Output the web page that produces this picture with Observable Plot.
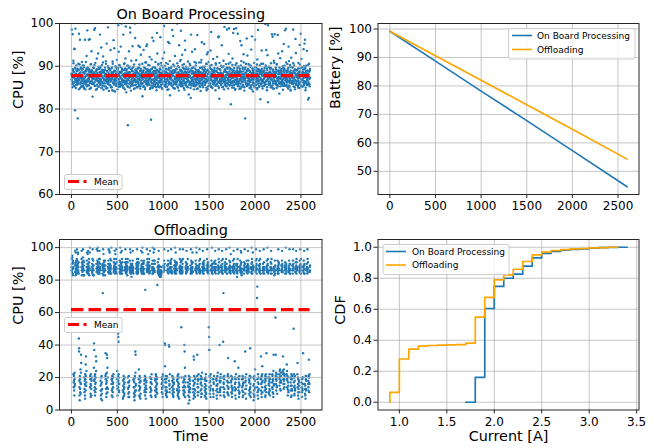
<!DOCTYPE html>
<html><head><meta charset="utf-8">
<script src="https://cdn.jsdelivr.net/npm/d3@7"></script>
<script src="https://cdn.jsdelivr.net/npm/@observablehq/plot@0.6"></script>
<style>
html,body{margin:0;padding:0;background:#fff;}
#fig{position:relative;width:664px;height:448px;overflow:hidden;font-family:"DejaVu Sans",sans-serif;}
#fig svg{position:absolute;left:0;top:0;}
</style></head><body><div id="fig"></div>
<script>
// ---------------- data ----------------
// CPU samples: series A at t = i*3 s, series B at t = i*3 + 1.5 s
const timeStep = 3;
const cpuOnBoardA = [
88.2,98.6,86.5,85.1,97.5,89.0,87.4,91.3,86.0,88.7,85.4,94.0,87.9,79.7,86.8,89.5,84.9,88.1,90.2,86.3,
87.1,85.7,88.9,77.8,86.4,90.6,87.6,84.6,89.2,86.9,88.4,96.2,85.9,87.3,89.8,86.1,88.0,85.2,91.0,87.7,
86.6,89.4,85.5,88.6,87.0,90.1,84.8,86.2,88.3,96.2,87.5,85.8,89.1,86.7,88.8,92.4,85.3,87.8,86.4,89.7,
88.1,85.6,87.2,96.2,86.9,89.3,84.7,88.5,86.3,87.9,90.4,85.0,88.7,93.5,86.6,89.0,87.4,82.9,85.9,88.2,
87.0,89.6,86.1,98.5,88.4,85.4,87.7,90.8,86.8,84.5,88.9,87.3,91.8,85.7,89.2,86.5,88.0,93.0,87.5,85.2,
89.4,86.2,88.6,87.1,97.4,85.8,89.9,86.9,88.3,84.9,87.6,90.3,86.4,88.7,85.5,92.3,87.2,89.1,86.0,88.5,
85.3,87.9,89.7,86.6,88.1,91.2,84.8,87.4,95.3,86.3,88.9,85.9,87.0,90.0,86.8,88.4,84.2,89.3,87.6,85.6,
88.0,86.4,93.8,87.8,85.1,89.5,86.9,88.6,84.4,87.3,90.6,86.1,88.2,96.1,85.7,87.7,89.0,86.5,84.1,88.8,
87.1,89.8,85.4,88.3,86.7,91.5,87.5,84.6,89.2,86.2,99.6,88.1,85.8,87.9,90.2,86.4,88.7,85.2,87.4,94.6,
86.0,88.5,100.0,87.0,89.4,85.5,86.8,88.0,97.4,84.9,87.6,90.5,86.3,89.1,85.9,88.4,91.8,87.2,86.5,83.9,
88.9,86.1,87.8,90.1,85.3,76.2,88.2,86.7,89.6,93.5,87.3,85.0,88.6,99.0,86.4,87.9,84.3,89.3,86.9,88.0,
85.7,87.5,94.7,86.2,88.8,89.9,86.6,84.7,88.1,87.0,100.0,85.6,89.2,86.8,88.3,91.4,87.4,85.1,88.7,86.3,
89.5,87.6,86.0,94.8,88.4,85.4,87.1,90.4,86.7,88.9,84.8,87.8,92.7,86.1,89.0,85.8,88.2,87.3,83.0,86.9,
88.6,85.2,93.8,87.4,89.7,86.4,88.0,84.6,90.9,87.1,85.9,88.5,94.7,86.6,89.3,87.7,85.5,88.2,86.2,90.3,
87.0,88.8,85.7,86.9,92.2,89.1,87.5,85.0,86.3,77.5,88.3,91.6,86.8,89.4,84.9,87.9,86.0,88.7,95.9,85.6,
88.1,86.5,89.8,87.2,85.3,91.0,88.6,86.1,87.6,84.4,89.2,86.7,93.0,88.0,85.8,87.4,90.6,86.3,88.9,85.1,
87.7,89.5,86.2,96.8,88.2,85.6,87.1,90.2,86.8,88.5,84.7,91.8,87.3,85.9,89.0,86.4,88.1,93.2,87.5,85.4,
86.9,88.7,85.2,87.9,90.8,86.0,89.3,87.0,84.5,88.4,86.6,95.7,87.6,85.7,89.6,86.3,88.0,91.2,83.2,87.2,
88.8,86.1,87.4,89.9,85.5,88.2,98.5,86.7,87.8,85.0,90.4,88.5,86.4,89.1,84.8,87.1,92.4,86.0,88.6,85.8,
87.5,89.4,86.2,88.0,100.0,85.3,87.9,90.0,86.8,88.3,84.3,94.9,87.0,85.9,89.2,86.5,88.9,91.5,87.3,85.6,
88.4,86.0,92.7,87.6,85.4,89.7,86.6,88.1,84.9,90.5,87.2,86.3,88.8,93.8,85.7,87.8,89.3,86.1,88.5,87.0,
85.2,88.0,86.9,91.1,87.4,89.5,83.4,86.4,88.6,85.8,87.7,90.2,86.2,82.6,89.0,87.1,85.5,88.3,93.4,86.7,
88.9,85.9,87.5,89.8,86.3,84.6,88.2,91.0,87.0,85.3,89.4,86.8,88.5,90.8,85.6,87.9,86.1,97.3,88.7,84.8,
87.3,89.1,86.6,88.0,90.9,85.4,87.8,86.0,88.6,84.2,89.7,87.1,91.5,85.8,88.3,86.9,87.6,89.9,85.1,88.1,
86.4,88.8,95.2,87.2,85.7,89.3,86.2,88.4,87.0,90.6,85.0,87.7,92.8,86.5,89.0,84.7,88.2,86.8,91.0,87.4,
85.5,88.6,87.1,89.6,86.0,93.7,88.0,85.2,87.5,90.3,86.7,89.2,84.9,88.3,87.8,91.7,86.1,88.9,85.8,87.3,
89.0,86.4,88.1,84.4,90.7,87.6,85.6,88.7,86.9,92.2,87.2,89.5,86.3,88.4,85.3,97.0,87.9,82.4,86.6,89.3,
87.0,88.5,85.9,90.1,86.5,88.2,94.9,87.4,85.1,89.8,86.8,88.0,91.3,87.7,84.6,86.2,89.1,87.3,85.7,88.9,
86.1,90.5,87.8,85.4,88.6,98.6,86.7,89.4,87.1,84.8,88.3,92.9,86.4,87.5,89.7,85.6,88.1,90.9,86.9,81.1,
88.4,86.0,89.2,87.3,85.5,91.8,88.8,86.6,87.9,85.0,98.7,89.6,86.3,88.1,84.5,87.6,90.3,86.8,98.9,85.8,
87.2,89.0,86.1,88.6,97.6,85.3,87.7,90.0,86.5,88.3,84.7,89.5,87.0,95.9,85.9,88.8,86.7,91.2,87.4,85.2,
88.2,86.4,89.8,87.5,85.6,92.8,88.0,86.9,84.3,89.3,87.1,77.8,88.5,86.2,90.6,87.8,85.4,88.9,86.0,92.5,
87.3,89.4,85.8,88.1,86.6,90.4,87.0,84.9,88.7,86.3,89.9,87.6,85.1,93.9,86.8,88.4,87.2,85.7,89.1,84.1,
86.2,88.6,87.9,90.8,85.5,89.2,86.9,96.2,88.0,85.0,87.4,89.7,86.4,88.3,84.6,91.6,87.1,85.9,88.8,86.7,
89.3,87.5,85.2,88.2,90.2,86.0,82.3,88.7,87.0,85.7,89.0,93.7,86.5,88.4,84.8,87.8,90.6,86.3,88.9,85.4,
87.2,89.6,86.1,88.0,99.9,85.8,87.6,90.0,86.7,88.5,84.4,89.1,92.6,87.3,81.6,88.1,86.4,89.8,85.6,87.9,
88.6,86.2,89.4,87.0,85.1,90.7,88.3,86.8,97.5,87.7,85.5,89.2,86.0,88.8,84.7,91.3,87.4,86.5,97.5,88.1,
85.9,87.8,89.7,86.4,88.4,84.9,90.4,87.1,85.7,88.9,86.6,93.0,87.5,89.0,86.1,83.6,88.2,87.3,91.9,85.3,
88.7,86.3,89.3,87.9,85.8,93.5,88.1,86.9,84.5,89.6,87.2,95.2,86.0,88.5,90.1,85.4,87.7,86.7,89.0,98.8,
87.0,85.6,88.8,86.2,90.5,87.6,89.4,84.8,88.0,86.5,91.2,87.3,85.2,88.6,86.8,89.9,84.3,87.9,92.0,86.1,
88.3,85.9,87.4,89.7,86.6,98.6,88.9,85.3,87.1,90.2,86.4,88.5,84.6,89.1,87.8,93.1,86.0,88.1,85.7,87.5,
89.2,86.7,88.4,85.0,90.8,87.2,86.1,88.7,84.9,95.0,87.6,89.5,86.3,88.0,85.5,91.7,87.0,86.8,89.8,85.2,
87.9,88.6,86.2,94.0,87.3,85.8,89.3,86.5,96.2,88.2,84.4,87.7,90.1,86.0,88.8,93.6,85.6,87.4,89.0,82.2,
86.4,88.1,82.6,90.6,87.0,85.3,89.4];
const cpuOnBoardB = [
86.9,88.4,85.8,87.4,87.6,89.3,86.2,90.7,88.0,85.3,94.1,87.2,89.6,86.4,98.8,88.3,85.6,87.8,89.0,86.7,
88.9,86.1,89.4,87.3,86.9,85.9,88.2,97.6,86.8,90.4,87.5,84.9,88.6,86.3,89.5,87.9,85.4,89.1,87.1,86.6,
87.4,90.2,86.0,88.5,85.1,89.8,87.1,86.3,86.5,88.8,84.6,87.7,91.0,86.2,89.4,85.7,88.1,98.4,87.0,86.4,
89.2,86.8,88.0,85.5,88.7,87.4,96.3,86.1,88.9,84.8,87.6,90.5,86.5,89.0,85.9,88.3,87.2,87.1,86.0,89.7,
85.8,88.6,87.2,90.3,86.3,98.9,88.1,85.4,87.8,88.9,86.9,89.3,84.7,88.4,86.6,87.2,87.5,85.2,89.9,86.1,
88.0,86.6,86.7,89.5,87.0,85.6,88.7,86.4,94.4,87.9,85.0,89.2,86.1,88.5,90.9,87.3,84.5,88.9,86.8,86.8,
87.7,86.0,89.1,88.2,85.3,90.6,87.0,88.0,86.5,88.8,84.9,87.4,99.1,86.3,89.6,85.8,88.1,89.4,87.2,86.9,
89.0,85.5,87.9,86.6,86.9,88.3,85.1,89.7,87.5,91.1,86.2,88.6,84.3,87.8,86.8,94.2,88.9,85.9,87.1,90.0,
86.4,88.1,87.7,87.3,85.6,89.4,86.0,88.7,89.6,87.0,85.2,93.4,86.9,88.3,90.3,86.1,87.6,85.4,89.8,88.5,
87.2,85.8,88.8,86.5,89.2,87.9,85.5,86.3,89.1,85.0,88.2,86.7,90.7,87.4,84.6,89.5,86.2,99.3,88.0,85.7,
89.3,86.6,88.4,87.1,85.2,90.1,86.8,88.3,88.6,85.9,87.5,89.9,86.0,97.9,88.1,85.4,87.7,91.3,86.4,88.9,
86.1,89.6,87.3,85.5,87.6,88.2,86.7,90.4,87.0,84.8,88.5,96.6,86.3,89.2,85.7,87.8,88.8,88.7,86.5,85.1,
88.3,87.0,89.5,86.2,89.7,85.6,88.0,86.9,94.5,87.5,85.3,89.4,86.6,88.2,88.4,85.9,87.2,90.6,86.0,88.8,
87.6,89.0,85.4,88.1,86.4,88.1,87.9,85.0,89.5,86.7,88.6,90.9,86.1,87.3,95.1,85.8,88.9,86.5,89.2,87.1,
85.9,88.4,86.8,90.2,87.4,84.7,88.7,87.1,86.3,89.3,85.5,87.8,86.1,96.7,88.2,85.2,89.8,87.0,88.4,86.6,
88.9,86.4,87.7,85.7,89.6,88.9,86.9,88.3,85.1,87.2,97.8,86.0,89.0,87.5,85.4,90.4,88.6,86.2,87.3,87.9,
86.7,88.5,85.3,89.2,87.1,90.8,86.4,88.0,84.9,88.5,87.6,86.1,89.7,85.8,88.8,87.3,99.4,86.5,88.2,90.1,
87.8,85.6,89.4,86.3,88.6,87.0,87.7,85.2,88.1,86.8,90.5,87.4,84.6,89.1,86.0,95.4,88.3,85.9,87.5,86.9,
89.5,87.2,86.0,88.7,85.4,88.4,87.9,86.6,89.0,97.1,85.7,88.4,86.2,90.0,87.6,84.8,88.9,86.9,86.4,87.1,
85.8,89.3,88.0,86.5,90.7,87.3,85.0,88.6,87.8,86.9,89.8,87.5,85.6,88.2,91.2,86.1,87.7,98.3,85.3,89.1,
87.0,86.3,88.8,90.3,85.9,87.6,88.4,86.7,89.4,88.1,84.5,87.2,96.0,86.0,88.5,85.5,89.9,87.8,88.1,86.4,
88.6,87.4,85.1,89.2,86.6,87.5,88.0,85.7,87.9,90.6,86.2,88.9,84.9,87.3,97.4,86.5,89.5,85.8,88.3,87.0,
86.8,89.7,87.5,85.4,88.6,88.2,86.1,87.7,94.0,85.6,88.6,90.2,86.4,89.1,87.2,84.7,88.0,86.9,88.0,87.6,
89.0,85.9,88.4,86.3,88.8,87.1,89.6,85.2,87.8,86.6,90.9,88.5,86.0,95.6,87.4,85.5,89.3,87.9,86.2,88.3,
87.3,88.9,86.5,89.9,85.7,88.1,86.4,87.0,86.2,88.7,84.4,90.5,87.6,86.8,89.2,93.3,85.3,88.3,87.1,86.0,
88.8,86.6,90.1,87.7,85.5,89.4,86.9,98.0,88.2,85.1,87.4,88.7,86.3,89.0,87.9,85.8,87.7,88.6,86.7,89.6,
86.2,88.0,87.1,85.4,90.4,86.8,88.9,87.6,87.3,85.9,89.5,86.4,88.4,96.8,87.6,84.9,88.1,90.8,86.1,87.7,
89.1,86.9,88.5,85.6,88.0,87.2,86.0,89.8,87.3,88.3,85.2,87.5,90.0,86.5,88.7,99.2,87.0,85.7,89.3,86.6,
87.9,85.3,88.6,87.4,89.7,86.1,88.1,88.0,85.8,87.1,90.6,86.7,98.9,88.8,85.5,87.6,89.4,86.3,87.6,88.2,
86.4,89.2,87.7,85.0,90.3,88.5,86.2,97.8,87.3,89.0,85.6,88.1,88.5,86.8,87.9,84.7,88.2,86.0,88.7,90.7,
88.3,86.5,89.6,87.0,85.7,86.0,88.4,86.1,87.8,88.8,85.3,89.1,86.9,88.6,84.8,90.2,87.4,94.9,86.3,88.0,
87.1,89.4,85.6,88.8,86.4,90.9,87.5,85.1,88.2,87.2,86.7,89.7,87.3,85.9,88.5,86.0,96.5,87.9,85.4,89.2,
86.6,88.1,90.5,87.2,85.8,89.0,86.3,87.9,88.7,85.5,87.6,90.1,86.8,88.4,84.6,97.0,87.0,89.5,86.2,88.9,
88.5,86.9,87.4,88.3,85.2,89.8,86.1,88.3,87.1,87.7,85.6,88.9,86.5,90.4,87.1,84.9,89.3,98.5,86.4,88.0,
87.6,85.4,89.1,86.7,88.6,89.0,87.3,85.9,88.1,90.6,86.0,89.4,87.8,85.3,86.7,86.8,88.7,87.0,88.1,86.2,
89.0,87.5,85.7,88.4,86.3,90.2,88.0,93.8,86.6,89.5,85.1,87.9,86.9,99.6,88.3,85.8,87.2,89.9,86.4,88.6,
86.1,88.8,87.4,85.5,89.6,86.9,87.7,88.2,85.0,87.7,96.9,86.4,89.2,87.1,84.8,88.5,90.8,86.7,88.0,87.5,
88.7,86.0,89.3,87.6,85.6,90.5,86.5,88.9,87.2,97.3,85.3,88.1,86.8,88.4,87.4,89.7,85.9,88.6,86.3,87.4,
87.0,89.1,85.8,88.3,86.3,86.6,87.9,90.0,85.4,88.8,86.2,89.2,87.5,89.4,85.7,98.4,88.0,86.9,87.3,90.9,
86.4,88.5,87.1,85.2,88.8,88.9,86.7,89.6,94.6,87.8,85.5,88.2,86.1,90.3,87.0,84.5,89.0,87.7,86.5,88.4,
87.7,86.3,89.8,87.2,85.9,90.7,88.6,86.0,88.5,87.4,85.1,89.3,86.8,96.4,88.1,85.6,87.9,89.0,86.4,89.1,
88.0,87.3,85.4,89.5,86.6,87.9,88.3,85.8,87.6,90.4,86.2,88.8,97.6,87.0,85.3,89.7,86.9,88.5,88.3,87.1,
86.7,89.2,87.8,85.5,90.0,88.4,95.3,86.1,87.5,89.6,85.0,88.9,86.4,88.5,87.2,87.1,86.8,88.2,85.7,90.3,
87.4,86.0,87.4,88.7,85.8,89.0,87.3];
const cpuOffloadingA = [
88,93,85,95,90,84,91,87,17,21,12,19,15,89,98,83,91,86,92,88,
99,87,84,90,97,85,91,44,38,14,6,19,11,25,16,34,88,98,83,90,
85,89,99,87,92,86,83,13,18,9,22,15,28,33,17,88,85,97,90,87,
85,98,89,86,91,83,87,100,21,16,8,19,13,18,86,90,84,99,87,92,
86,83,41,37,19,14,22,11,17,33,30,87,99,85,90,86,100,91,84,88,
88,85,98,86,90,87,15,9,20,12,17,6,89,84,72,99,87,86,92,91,
87,86,83,89,35,22,16,10,18,34,32,26,13,90,87,99,85,88,86,97,
90,85,88,87,84,100,19,12,21,8,16,14,20,87,91,86,89,98,84,88,
86,90,88,99,87,84,24,13,17,47,45,42,20,11,89,85,87,100,91,85,
87,86,89,98,84,91,86,7,15,11,19,9,14,17,88,87,99,85,90,86,
87,89,86,83,91,20,13,8,17,11,15,88,85,99,87,90,84,88,82,86,
87,90,86,98,88,84,18,10,14,6,21,12,36,34,16,87,85,89,99,91,
86,89,84,87,91,25,12,17,8,20,14,10,87,98,85,88,90,84,100,88,
88,85,90,87,84,16,11,19,74,13,7,15,18,89,99,86,87,91,85,88,
86,91,87,84,89,98,14,20,9,17,12,22,86,88,87,100,84,90,86,92,
87,99,85,90,12,18,8,21,15,11,19,16,77,85,88,86,87,98,83,89,
86,83,82,84,83,86,85,88,20,13,17,10,22,18,85,88,87,99,86,41,
40,17,12,19,9,14,21,11,86,89,87,98,84,90,40,39,16,13,88,85,
87,90,99,86,88,84,18,10,15,20,8,13,17,87,85,89,100,91,85,87,
86,89,87,90,12,19,9,15,22,11,16,7,88,85,99,87,84,91,88,51,
86,87,84,88,90,99,14,10,18,12,40,36,26,8,17,87,85,89,98,85,
90,86,87,88,15,4,12,19,8,14,11,18,87,84,99,86,88,91,87,85,
88,85,13,7,33,31,16,10,20,12,87,90,86,100,88,84,87,34,14,9,
18,11,86,89,87,99,90,85,86,16,21,8,13,19,10,88,85,98,87,91,
84,88,86,87,14,9,18,11,22,15,7,86,89,99,87,90,86,85,88,51,
45,37,17,12,20,8,15,86,89,87,100,90,84,86,13,19,10,16,88,87,
86,90,98,87,84,88,12,18,7,15,21,11,86,88,87,99,91,85,40,13,
17,9,14,20,88,85,87,98,90,84,86,42,72,16,11,19,8,88,87,86,
90,88,99,86,87,84,15,21,10,32,13,17,88,85,100,87,91,85,86,88,
18,11,14,8,20,12,87,85,88,98,90,84,87,30,16,9,19,13,86,89,
87,82,90,99,86,88,26,12,17,10,21,15,86,87,89,98,84,91,87,85,
14,19,8,16,11,20,86,89,87,99,90,36,13,18,7,15,85,88,86,87,
90,98,86,88,87,17,10,21,13,38,16,8,88,85,100,87,91,84,86,88,
87,15,6,12,19,9,14,25,86,88,99,87,90,84,69,76,11,17,7,20,
13,86,89,87,98,90,86,84,33,16,10,21,14,27,18,87,88,85,99,91,
84,87,12,19,8,15,22,11,35,86,89,87,100,90,86,85,16,10,20,13,
17,9,88,86,87,98,90,84,86,14,21,11,18,8,34,16,87,83,88,86,
89,57,34,19,12,22,15,10,87,88,85,99,84,90,87,20,24,17,13,21,
18,23,86,89,87,98,90,85,33,22,16,25,19,14,21,86,88,87,100,84,
89,85,28,24,18,13,20,15,11,86,87,89,99,84,90,86,17,12,19,9,
15,21,86,89,87,99,90,50,22,14,10,18,12,87,85,88,98,84,91,86,
87,29,16,9,19,13,11,17,86,89,87,99,90,84,86,88,14,8,20,12,
16,35,86,89,87,98,90,84,10,15,7,19,13,21,87,86,88,99,85,91,
18,12,31,20,16,88,86];
const cpuOffloadingB = [
86,90,94,87,83,92,88,22,14,18,9,23,16,85,90,97,87,84,89,93,
92,85,89,96,86,88,84,36,18,9,21,13,17,10,23,29,93,86,91,87,
88,94,86,83,89,91,20,11,16,7,19,12,21,15,24,86,92,88,84,96,
90,87,84,93,88,86,97,14,19,10,22,15,9,20,88,85,93,87,89,83,
89,26,18,12,21,9,16,20,13,24,90,85,88,92,87,98,84,89,86,93,
91,87,84,93,88,18,12,7,16,21,10,13,86,90,88,83,96,89,85,87,
89,92,86,21,19,13,8,17,23,14,11,20,88,85,92,87,84,98,89,90,
86,93,89,84,92,16,9,18,13,20,11,17,22,85,88,93,86,90,87,96,
88,85,93,87,91,19,15,9,21,14,18,22,12,16,87,92,84,88,86,97,
90,84,87,93,88,86,12,18,8,21,13,16,10,20,86,91,88,93,84,89,
85,91,88,87,93,17,10,14,21,8,18,87,92,86,97,84,89,86,85,90,
89,86,92,85,87,19,14,8,17,11,20,9,23,15,12,90,88,84,93,86,
88,85,93,90,19,15,9,21,13,17,7,18,86,89,92,87,84,97,86,90,
86,91,84,92,18,12,21,9,14,20,11,17,13,87,85,93,90,86,96,88,
89,86,93,88,85,20,11,17,13,19,8,16,90,84,92,87,88,85,97,87,
90,86,92,19,9,14,22,12,17,13,20,10,88,91,84,89,93,86,88,85,
84,82,83,86,82,88,84,16,11,19,14,8,21,15,89,86,92,88,90,27,
19,14,21,10,17,12,8,20,89,85,92,86,90,87,18,15,11,22,85,91,
92,86,88,93,85,14,21,12,17,9,19,11,16,89,92,86,84,88,97,90,
84,91,86,18,13,21,10,17,8,20,14,12,87,93,86,89,88,85,92,20,
88,92,86,85,93,17,12,20,9,15,19,11,14,21,88,91,84,87,90,86,
86,88,93,17,9,14,21,11,6,16,20,13,89,85,92,87,84,90,86,97,
91,18,11,15,9,21,13,17,8,19,86,92,88,85,97,89,21,16,11,19,
14,22,88,85,92,87,84,93,19,12,17,10,20,15,23,86,90,88,84,89,
90,86,92,19,12,16,8,20,13,10,18,87,93,85,88,91,84,89,86,37,
14,21,10,18,13,22,86,89,92,85,88,84,90,19,12,8,17,21,91,86,
88,85,92,86,90,19,15,9,20,13,16,23,89,84,93,87,88,18,11,20,
12,18,22,89,86,92,85,88,84,93,20,14,17,9,21,13,89,91,85,88,
86,93,87,90,84,18,11,17,22,14,9,20,87,92,86,89,88,84,96,17,
21,15,10,19,13,88,92,86,89,85,93,88,14,20,12,17,7,22,90,85,
89,85,84,93,88,20,14,19,8,16,11,88,92,85,86,90,97,87,83,19,
12,21,15,9,17,87,84,91,86,88,17,10,20,13,22,88,92,86,89,84,
86,89,92,85,19,12,18,9,21,14,11,20,87,90,84,93,88,86,97,89,
20,10,16,8,21,13,18,88,85,92,86,89,93,87,14,19,9,22,12,16,
89,92,85,88,86,93,84,19,12,20,8,17,22,11,86,90,88,84,87,86,
88,17,14,21,9,18,13,20,88,92,85,86,89,93,84,20,11,18,15,22,
12,19,86,91,84,88,93,87,17,22,13,19,10,24,15,88,85,86,92,84,
86,21,16,23,18,14,20,86,92,84,88,89,91,86,22,15,19,25,17,12,
21,17,89,85,92,86,88,24,19,23,13,18,22,16,89,84,91,88,86,90,
87,22,19,14,21,9,17,12,88,85,92,86,90,87,84,20,15,8,22,13,
19,12,89,84,92,86,88,17,20,9,15,21,13,85,91,87,89,93,86,88,
22,14,20,11,7,18,15,88,85,92,86,89,84,93,88,17,11,19,13,16,
20,88,85,92,84,89,87,16,13,9,21,12,18,86,90,88,84,93,87,16,
14,21,17,11,22,85,89];
const meanOnBoard = 87.8;
const meanOffloading = 61.8;

const batteryTime = [0, 500, 1000, 1500, 2000, 2600];
const batteryOnBoard = [99.2, 88.7, 78.2, 67.8, 57.3, 44.6];
const batteryOffloading = [99.2, 90.6, 82.0, 73.4, 64.8, 54.3];

const currentOnBoard = [1.7,1.8,1.9,2.0,2.1,2.2,2.3,2.4,2.5,2.6,2.7,2.8,2.9,3.0,3.1,3.2,3.3,3.4];
const cdfOnBoard = [0,0.161,0.605,0.747,0.800,0.826,0.878,0.932,0.961,0.973,0.981,0.986,0.990,0.994,0.997,0.999,1.0,1.0];
const currentOffloading = [0.9,0.9,1.0,1.1,1.2,1.3,1.4,1.5,1.6,1.7,1.8,1.9,2.0,2.1,2.2,2.3,2.4,2.5,2.6,2.7,2.8,2.9,3.0,3.1,3.2,3.3];
const cdfOffloading = [0,0.064,0.279,0.343,0.362,0.366,0.368,0.370,0.372,0.382,0.549,0.676,0.790,0.822,0.858,0.908,0.951,0.968,0.979,0.985,0.989,0.992,0.996,0.998,1.0,1.0];

const timeTicks = [0, 500, 1000, 1500, 2000, 2500];
const cpuTicksOnBoard = [60, 70, 80, 90, 100];
const cpuTicksOffloading = [0, 20, 40, 60, 80, 100];
const batteryTicks = [50, 60, 70, 80, 90, 100];
const currentTicks = [1.0, 1.5, 2.0, 2.5, 3.0, 3.5];
const cdfTicks = [0.0, 0.2, 0.4, 0.6, 0.8, 1.0];
const seriesNames = ["On Board Processing", "Offloading"];
const meanLabel = "Mean";

// ---------------- drawing ----------------
const BLUE = "#1f77b4", ORANGE = "#ffa500", RED = "#ff0000";
const W = 664, H = 448;
const fig = document.getElementById("fig");
const pad = ([a, b]) => { const m = (b - a) * 0.05; return [a - m, b + m]; };
const f1 = d3.format(".1f");

function panel({box, xDomain, yDomain, xTicks, yTicks, xFmt, yFmt, marks, title, xLabel, yLabel, yLabelDx}) {
  const [l, t, r, b] = box;
  const extra = [];
  if (title) extra.push(Plot.text([title], {frameAnchor: "top", dy: -5, lineAnchor: "bottom", fontSize: 14.4, fill: "#000"}));
  if (xLabel) extra.push(Plot.text([xLabel], {frameAnchor: "bottom", dy: 31, lineAnchor: "bottom", fontSize: 14.4, fill: "#000"}));
  if (yLabel) extra.push(Plot.text([yLabel], {frameAnchor: "left", dx: yLabelDx, rotate: -90, lineAnchor: "bottom", fontSize: 14.4, fill: "#000"}));
  const svg = Plot.plot({
    width: W, height: H,
    marginLeft: l, marginTop: t, marginRight: W - r, marginBottom: H - b,
    x: {domain: xDomain},
    y: {domain: yDomain},
    style: {background: "transparent", fontFamily: "DejaVu Sans", fontSize: "12px", color: "#000", overflow: "visible"},
    marks: [
      ...marks.below,
      Plot.gridX({ticks: xTicks, stroke: "#b0b0b0", strokeOpacity: 0.8, strokeWidth: 0.9}),
      Plot.gridY({ticks: yTicks, stroke: "#b0b0b0", strokeOpacity: 0.8, strokeWidth: 0.9}),
      ...marks.above,
      Plot.frame({stroke: "#262626", strokeWidth: 1}),
      Plot.axisX({ticks: xTicks, tickFormat: xFmt, tickSize: 4, tickPadding: 3, label: null, fontSize: 12, stroke: "#262626"}),
      Plot.axisY({ticks: yTicks, tickFormat: yFmt, tickSize: 4, tickPadding: 2, label: null, fontSize: 12, stroke: "#262626"}),
      ...extra
    ]
  });
  fig.appendChild(svg);
}

const LEFT = [59, 23, 321.5, 194];
const RIGHT = [377.5, 23, 638.5, 194];
const LEFT2 = [59, 239, 321.5, 409.5];
const RIGHT2 = [377.5, 239, 638.5, 409.5];

const samples = (a, b) => [
  ...a.map((v, i) => ({t: i * timeStep, cpu: v})),
  ...b.map((v, i) => ({t: i * timeStep + timeStep / 2, cpu: v}))
];
const onBoard = samples(cpuOnBoardA, cpuOnBoardB);
const offloading = samples(cpuOffloadingA, cpuOffloadingB);
const timeDomain = pad(d3.extent(onBoard, d => d.t));
const DOT_R = 1.2;

// CPU on board
panel({
  box: LEFT, xDomain: timeDomain, yDomain: [60, 100], xTicks: timeTicks, yTicks: cpuTicksOnBoard,
  xFmt: d3.format("d"), yFmt: d3.format("d"),
  marks: {
    below: [Plot.dot(onBoard, {x: "t", y: "cpu", r: DOT_R, fill: BLUE, stroke: "none", clip: true})],
    above: [Plot.ruleY([meanOnBoard], {x1: d3.min(onBoard, d => d.t), x2: d3.max(onBoard, d => d.t), stroke: RED, strokeWidth: 3.2, strokeDasharray: "12.5,5"})]
  },
  title: seriesNames[0], yLabel: "CPU [%]", yLabelDx: -37
});

// Battery
panel({
  box: RIGHT, xDomain: pad(d3.extent(batteryTime)),
  yDomain: pad(d3.extent([...batteryOnBoard, ...batteryOffloading])),
  xTicks: timeTicks, yTicks: batteryTicks, xFmt: d3.format("d"), yFmt: d3.format("d"),
  marks: {
    below: [],
    above: [
      Plot.line(batteryTime, {x: batteryTime, y: batteryOnBoard, stroke: BLUE, strokeWidth: 1.6}),
      Plot.line(batteryTime, {x: batteryTime, y: batteryOffloading, stroke: ORANGE, strokeWidth: 1.6})
    ]
  },
  yLabel: "Battery [%]", yLabelDx: -38
});

// CPU offloading
panel({
  box: LEFT2, xDomain: timeDomain, yDomain: [0, 105], xTicks: timeTicks, yTicks: cpuTicksOffloading,
  xFmt: d3.format("d"), yFmt: d3.format("d"),
  marks: {
    below: [Plot.dot(offloading, {x: "t", y: "cpu", r: DOT_R, fill: BLUE, stroke: "none", clip: true})],
    above: [Plot.ruleY([meanOffloading], {x1: d3.min(offloading, d => d.t), x2: d3.max(offloading, d => d.t), stroke: RED, strokeWidth: 3.2, strokeDasharray: "12.5,5"})]
  },
  title: seriesNames[1], xLabel: "Time", yLabel: "CPU [%]", yLabelDx: -36.5
});

// CDF
panel({
  box: RIGHT2, xDomain: pad(d3.extent([...currentOnBoard, ...currentOffloading])), yDomain: pad([0, 1]),
  xTicks: currentTicks, yTicks: cdfTicks, xFmt: f1, yFmt: f1,
  marks: {
    below: [],
    above: [
      Plot.line(currentOnBoard, {x: currentOnBoard, y: cdfOnBoard, curve: "step-after", stroke: BLUE, strokeWidth: 1.7}),
      Plot.line(currentOffloading, {x: currentOffloading, y: cdfOffloading, curve: "step-after", stroke: ORANGE, strokeWidth: 1.7})
    ]
  },
  xLabel: "Current [A]", yLabel: "CDF", yLabelDx: -33.3
});

// ---------------- legends (matplotlib-style boxes) ----------------
const ov = d3.select(fig).append("svg").attr("width", W).attr("height", H)
  .style("font-family", "DejaVu Sans").style("font-size", "9px");
function legend(x, y, w, h, items, lx1, lx2, tx, rowY) {
  ov.append("rect").attr("x", x + 0.5).attr("y", y + 0.5).attr("width", w).attr("height", h).attr("rx", 2)
    .attr("fill", "#fff").attr("fill-opacity", 0.8).attr("stroke", "#cccccc").attr("stroke-width", 1);
  items.forEach((it, i) => {
    ov.append("line").attr("x1", lx1).attr("x2", lx2).attr("y1", rowY[i]).attr("y2", rowY[i])
      .attr("stroke", it.color).attr("stroke-width", it.width).attr("stroke-dasharray", it.dash || null);
    ov.append("text").attr("x", tx).attr("y", rowY[i]).attr("dy", "0.35em").attr("fill", "#000").text(it.label);
  });
}
legend(64, 174, 57.5, 15, [{color: RED, width: 3, dash: "11,4.5", label: meanLabel}], 68, 86.5, 94, [181.5]);
legend(64, 317, 57.5, 15, [{color: RED, width: 3, dash: "11,4.5", label: meanLabel}], 68, 86.5, 94, [324.5]);
legend(508, 28, 126.5, 30.5, [{color: BLUE, width: 1.6, label: seriesNames[0]}, {color: ORANGE, width: 1.6, label: seriesNames[1]}], 512, 532, 537, [35.5, 49.5]);
legend(382.5, 244, 126, 30, [{color: BLUE, width: 1.6, label: seriesNames[0]}, {color: ORANGE, width: 1.6, label: seriesNames[1]}], 386, 406, 412, [251.5, 265]);
</script></body></html>
